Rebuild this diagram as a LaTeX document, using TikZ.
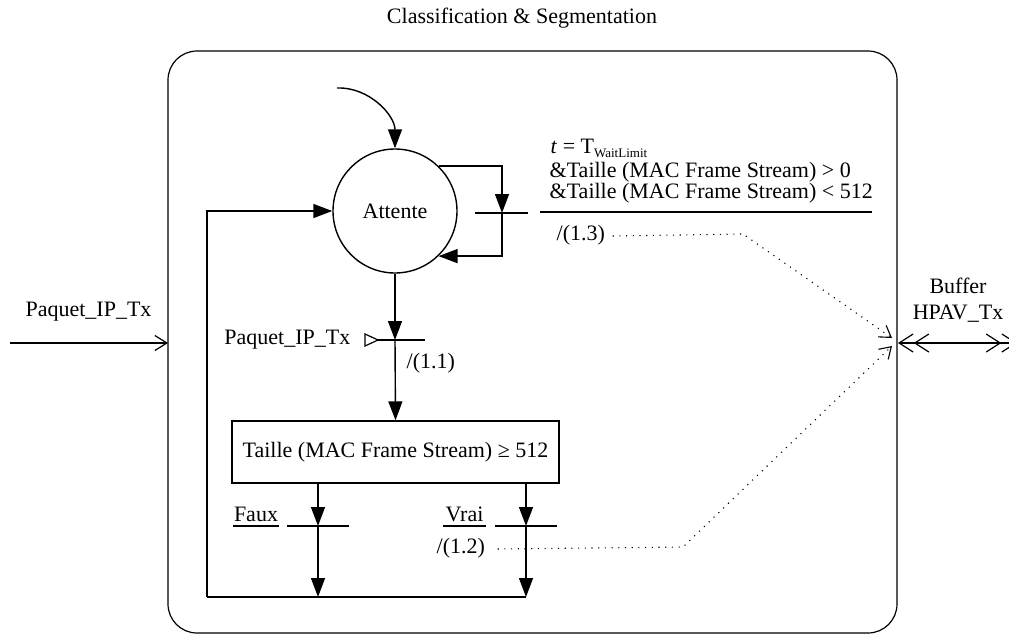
\documentclass[tikz,border=0pt]{standalone}
\usepackage{fontspec}
\setmainfont{Liberation Serif}
\usetikzlibrary{arrows.meta}
\begin{document}
\begin{tikzpicture}[x=1pt,y=-1pt, line width=1.4pt,
  fa/.style={-{Triangle[length=19pt,width=14pt]}},
  oa/.style={-{Straight Barb[length=12pt,width=15pt]}},
  dots/.style={line width=1.1pt, dash pattern=on 1.1pt off 5.6pt, -{Straight Barb[length=11pt,width=14pt]}},
  lbl/.style={font=\fontsize{22}{22}\selectfont, inner sep=0pt},
  bufarr/.style={{Straight Barb[length=14pt,width=18pt] Straight Barb[length=14pt,width=18pt]}-{Straight Barb[length=14pt,width=18pt] Straight Barb[length=14pt,width=18pt]}}]
\useasboundingbox (0,0) rectangle (1009,635);

% title and outer frame
\node[lbl] (title) at (522,18) {Classification \& Segmentation};
\draw[line width=1.2pt, rounded corners=29pt] (168,51) rectangle (897,633);

% state
\node[circle, draw, minimum size=124pt, lbl] (att) at (395,211) {Attente};
\coordinate (cs) at (337,88);
\draw[fa] (cs) to[out=2,in=90] (att.north);

% self loop
\coordinate (lb) at (502,213);
\draw[fa] (att.46.6) -| (lb);
\draw[fa] (lb) |- (att.-46.6);
\draw (475,213) -- (528,213);

% condition text
\node[lbl, anchor=base west] (c1) at (550,153) {\textit{t} = T\raisebox{-0.2em}{\fontsize{13}{13}\selectfont WaitLimit}};
\node[lbl, anchor=base west] (c2) at (549,177) {\&Taille (MAC Frame Stream) > 0};
\node[lbl, anchor=base west] (c3) at (549,198) {\&Taille (MAC Frame Stream) < 512};
\draw (540,212) -- (872,212);
\node[lbl, anchor=west] (l13) at (556,235) {/(1.3)};

% main transition
\coordinate (t1) at (395,340);
\draw[fa] (att.south) -- (t1);
\draw (378,340) -- (425,340);
\draw[line width=1.2pt] (365,334) -- (378,340) -- (365,346) -- cycle;
\node[lbl, anchor=east] (pip) at (351,340) {Paquet\_IP\_Tx};
\node[lbl, anchor=west] (l11) at (406,363) {/(1.1)};

% decision box
\node[draw, minimum width=327pt, minimum height=62pt, lbl] (tb) at (395.5,452) {Taille (MAC Frame Stream) ≥ 512};
\draw[fa] (t1) -- (tb.north);

% branches
\coordinate (fb) at (318,526);
\coordinate (fe) at (318,597);
\coordinate (vb) at (526,526);
\coordinate (ve) at (526,597);
\coordinate (bl) at (207,597);
\draw[fa] (fb |- tb.south) -- (fb);
\draw[fa] (fb) -- (fe);
\draw (287,526) -- (349,526);
\draw[fa] (vb |- tb.south) -- (vb);
\draw[fa] (vb) -- (ve);
\draw (495,526) -- (557,526);
\draw (bl) -- (ve);
\draw[fa] (bl) |- (att.west);

\node[lbl, anchor=base] (faux) at (256,521) {Faux};
\draw[line width=1.1pt] (233,526) -- (279,526);
\node[lbl, anchor=base] (vrai) at (464.5,521) {Vrai};
\draw[line width=1.1pt] (443,526) -- (486,526);
\node[lbl, anchor=west] (l12) at (436,548) {/(1.2)};

% dotted links
\coordinate (tipA) at (892,338);
\coordinate (tipB) at (892,346);
\draw[dots] ([xshift=7pt,yshift=-1pt]l13.east) -- (743,234) -- (tipA);
\draw[dots] ([xshift=12pt,yshift=-1pt]l12.east) -- (683,547) -- (tipB);

% input
\node[lbl] (pin) at (88.5,312) {Paquet\_IP\_Tx};
\coordinate (ins) at (10,343);
\coordinate (ine) at (168,343);
\draw[oa, line width=1.2pt] (ins) -- (ine);

% buffer
\node[font=\fontsize{22}{26}\selectfont, inner sep=0pt, align=center] (buf) at (958,300) {Buffer\\HPAV\_Tx};
\coordinate (bx1) at (898,343);
\coordinate (bx2) at (1017,343);
\draw[bufarr, line width=1.2pt] (bx1) -- (bx2);
\end{tikzpicture}
\end{document}
